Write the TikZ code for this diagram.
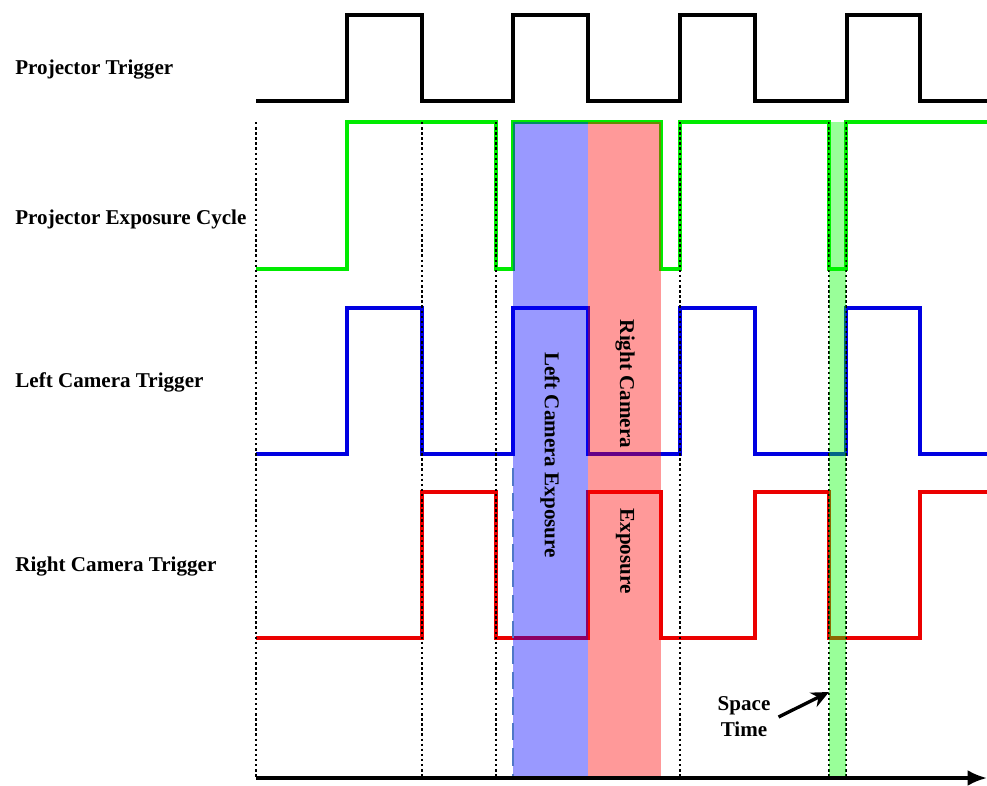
\documentclass[tikz,border=0pt]{standalone}
\usepackage{fontspec}
\setmainfont{Liberation Serif}
\usetikzlibrary{arrows.meta, positioning}
\definecolor{trigblack}{RGB}{0,0,0}
\definecolor{expgreen}{RGB}{0,235,0}
\definecolor{camblue}{RGB}{0,0,225}
\definecolor{camred}{RGB}{235,0,0}
\definecolor{dashblue}{RGB}{80,120,200}
\tikzset{
  sig/.style={line width=1.9pt, line join=miter},
  sep/.style={line width=1.4pt, dash pattern=on 1.4pt off 1.5pt},
  lbl/.style={font=\fontsize{12}{14}\selectfont\bfseries, anchor=base west, inner sep=0pt},
  bandtxt/.style={font=\fontsize{12}{14}\selectfont\bfseries, rotate=-90, inner sep=0pt},
}

\begin{document}
\begin{tikzpicture}[x=0.02cm, y=-0.02cm]
  % 边界框（像素坐标）
  \useasboundingbox (0,0) rectangle (987,785);

  % 左侧信号名称
  \node[lbl] (lblproj) at (15,74)  {Projector Trigger};
  \node[lbl] (lblexpo) at (15,224) {Projector Exposure Cycle};
  \node[lbl] (lblleft) at (15,387) {Left Camera Trigger};
  \node[lbl] (lblright) at (15,571) {Right Camera Trigger};

  % 投影仪触发
  \draw[sig, trigblack] (256,101) -- (347,101) -- (347,15) -- (422,15) -- (422,101)
    -- (513,101) -- (513,15) -- (588,15) -- (588,101)
    -- (680,101) -- (680,15) -- (755,15) -- (755,101)
    -- (847,101) -- (847,15) -- (920,15) -- (920,101) -- (987,101);

  % 投影曝光周期
  \draw[sig, expgreen, line width=2.4pt] (256,269) -- (347,269) -- (347,122) -- (496,122) -- (496,269)
    -- (513,269) -- (513,122) -- (661,122) -- (661,269)
    -- (680,269) -- (680,122) -- (829,122) -- (829,269)
    -- (846,269) -- (846,122) -- (987,122);

  % 左相机触发
  \draw[sig, camblue] (256,454) -- (347,454) -- (347,308) -- (422,308) -- (422,454)
    -- (513,454) -- (513,308) -- (588,308) -- (588,454)
    -- (680,454) -- (680,308) -- (755,308) -- (755,454)
    -- (846,454) -- (846,308) -- (920,308) -- (920,454) -- (987,454);

  % 右相机触发
  \draw[sig, camred] (256,638) -- (422,638) -- (422,492) -- (496,492) -- (496,638)
    -- (588,638) -- (588,492) -- (661,492) -- (661,638)
    -- (755,638) -- (755,492) -- (829,492) -- (829,638)
    -- (920,638) -- (920,492) -- (987,492);

  % 分隔虚线
  \draw[sep] (256,122) -- (256,777);
  \draw[sep] (422,122) -- (422,777);
  \draw[sep] (496,122) -- (496,777);
  \draw[sep] (680,122) -- (680,777);
  \draw[sep] (829,122) -- (829,777);
  \draw[sep] (846,122) -- (846,777);

  % 曝光区间（半透明）
  \fill[blue, opacity=0.4] (513,122) rectangle (588,777);
  \fill[red, opacity=0.4] (588,122) rectangle (661,777);
  \fill[green, opacity=0.4] (829,122) rectangle (846,777);
  \draw[dashblue, line width=1.6pt, dash pattern=on 10pt off 4.5pt] (513,468) -- (513,777);

  % 曝光文字
  \node[bandtxt] (leftexp) at (550,455) {Left Camera Exposure};
  \node[bandtxt] (rightcam) at (625,384) {Right Camera};
  \node[bandtxt] (rightexp) at (625,551) {Exposure};

  % 间隔时间
  \node[font=\fontsize{12}{14.7}\selectfont\bfseries, align=center] (spacet) at (744,717) {Space\\Time};
  \coordinate (gap) at (829,692);
  \draw[-{Stealth[length=10pt, width=9pt]}, line width=1.9pt] (spacet.east) ++(2,0) -- (gap);

  % 时间轴
  \draw[-{Latex[length=11pt, width=9pt]}, line width=1.9pt] (256,778) -- (987,778);
\end{tikzpicture}
\end{document}
